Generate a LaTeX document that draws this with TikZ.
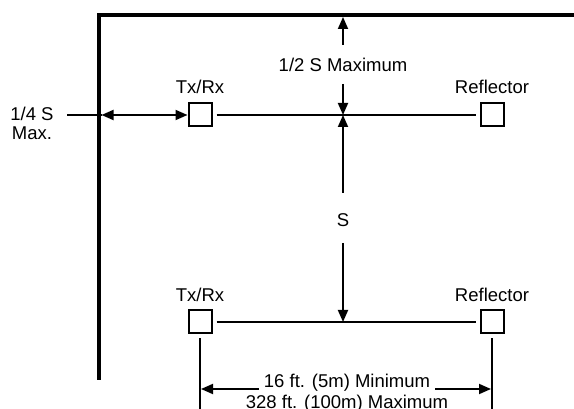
\documentclass[tikz,border=0pt]{standalone}
\usepackage{fontspec}
\setmainfont{Liberation Sans}
\usetikzlibrary{arrows.meta}
\begin{document}
\begin{tikzpicture}[x=1pt,y=-1pt,
  every node/.style={font=\fontsize{18.5}{21}\selectfont, inner sep=0pt},
  dev/.style={draw, line width=2pt, minimum size=23pt, inner sep=0pt},
  thinline/.style={line width=1.8pt},
  arr/.style={thinline, -{Triangle[length=12pt,width=10pt]}},
  dbl/.style={thinline, {Triangle[length=12pt,width=10pt]}-{Triangle[length=12pt,width=10pt]}},
  wallline/.style={line width=4.5pt}]
\useasboundingbox (0,0) rectangle (574,409);
% wall
\coordinate (wallBot) at (99,380);
\coordinate (corner) at (99,15);
\coordinate (wallEnd) at (580,15);
\draw[wallline] (wallBot) -- (corner) -- (wallEnd);
% devices
\node[dev] (txA) at (200,115) {};
\node[dev] (refA) at (492,115) {};
\node[dev] (txB) at (200,322) {};
\node[dev] (refB) at (492,322) {};
\node[anchor=base] (ltxA) at (200,94) {Tx/Rx};
\node[anchor=base] (lrefA) at (492,94) {Reflector};
\node[anchor=base] (ltxB) at (200,302) {Tx/Rx};
\node[anchor=base] (lrefB) at (492,302) {Reflector};
% beams
\draw[thinline] ([xshift=4pt]txA.east) -- ([xshift=-4pt]refA.west);
\draw[thinline] ([xshift=4pt]txB.east) -- ([xshift=-4pt]refB.west);
% 1/4 S
\node[anchor=base] (q1) at (32,121) {1/4 S};
\node[anchor=base] (q2) at (32,140) {Max.};
\coordinate (qL) at (67,115);
\coordinate (wallIn) at (101.5,115);
\draw[thinline] (qL) -- (wallIn);
\draw[dbl] (wallIn) -- (txA.west);
% 1/2 S Maximum
\node[anchor=base] (half) at (343,72) {1/2 S Maximum};
\coordinate (ceil) at (343,17);
\coordinate (midA) at (343,115);
\coordinate (midB) at (343,322);
\coordinate (h1) at (343,45);
\coordinate (h2) at (343,84);
\draw[arr] (h1) -- (ceil);
\draw[arr] (h2) -- (midA);
% S
\node[anchor=base] (s) at (343,227) {S};
\coordinate (s1) at (343,193);
\coordinate (s2) at (343,243);
\draw[arr] (s1) -- (midA);
\draw[arr] (s2) -- (midB);
% bottom dimension
\coordinate (e1) at (200,412);
\coordinate (e2) at (492,412);
\draw[thinline] ([yshift=-4pt]txB.south) -- (e1);
\draw[thinline] ([yshift=-4pt]refB.south) -- (e2);
\node[anchor=base] (d1) at (347,388) {16 ft. (5m) Minimum};
\node[anchor=base] (d2) at (347,408) {328 ft. (100m) Maximum};
\coordinate (a1) at (259,389);
\coordinate (a2) at (435,389);
\coordinate (t1) at (201,389);
\coordinate (t2) at (491,389);
\draw[arr] (a1) -- (t1);
\draw[arr] (a2) -- (t2);
\end{tikzpicture}
\end{document}
